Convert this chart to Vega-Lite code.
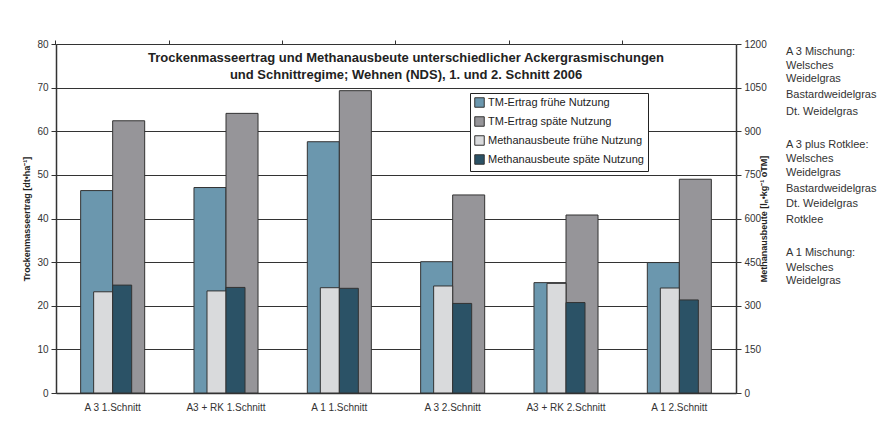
{
  "$schema": "https://vega.github.io/schema/vega-lite/v6.json",
  "background": "white",
  "padding": {"left": 22, "top": 39, "right": 5, "bottom": 5},
  "config": {
    "font": "Liberation Sans",
    "view": {"stroke": null},
    "concat": {"spacing": 17},
    "axis": {"labelFont": "Liberation Sans", "titleFont": "Liberation Sans", "labelColor": "#333", "titleColor": "#222", "domainColor": "#333", "tickColor": "#333"}
  },
  "datasets": {
    "balken": [
      {"kategorie": "A 3 1.Schnitt", "serie": "TM-Ertrag frühe Nutzung", "gruppe": "TM", "wert": 46.4},
      {"kategorie": "A 3 1.Schnitt", "serie": "TM-Ertrag späte Nutzung", "gruppe": "TM", "wert": 62.4},
      {"kategorie": "A3 + RK 1.Schnitt", "serie": "TM-Ertrag frühe Nutzung", "gruppe": "TM", "wert": 47.1},
      {"kategorie": "A3 + RK 1.Schnitt", "serie": "TM-Ertrag späte Nutzung", "gruppe": "TM", "wert": 64.1},
      {"kategorie": "A 1 1.Schnitt", "serie": "TM-Ertrag frühe Nutzung", "gruppe": "TM", "wert": 57.6},
      {"kategorie": "A 1 1.Schnitt", "serie": "TM-Ertrag späte Nutzung", "gruppe": "TM", "wert": 69.3},
      {"kategorie": "A 3 2.Schnitt", "serie": "TM-Ertrag frühe Nutzung", "gruppe": "TM", "wert": 30.1},
      {"kategorie": "A 3 2.Schnitt", "serie": "TM-Ertrag späte Nutzung", "gruppe": "TM", "wert": 45.4},
      {"kategorie": "A3 + RK 2.Schnitt", "serie": "TM-Ertrag frühe Nutzung", "gruppe": "TM", "wert": 25.3},
      {"kategorie": "A3 + RK 2.Schnitt", "serie": "TM-Ertrag späte Nutzung", "gruppe": "TM", "wert": 40.8},
      {"kategorie": "A 1 2.Schnitt", "serie": "TM-Ertrag frühe Nutzung", "gruppe": "TM", "wert": 29.9},
      {"kategorie": "A 1 2.Schnitt", "serie": "TM-Ertrag späte Nutzung", "gruppe": "TM", "wert": 49.0},
      {"kategorie": "A 3 1.Schnitt", "serie": "Methanausbeute frühe Nutzung", "gruppe": "Methan", "wert": 348},
      {"kategorie": "A 3 1.Schnitt", "serie": "Methanausbeute späte Nutzung", "gruppe": "Methan", "wert": 371},
      {"kategorie": "A3 + RK 1.Schnitt", "serie": "Methanausbeute frühe Nutzung", "gruppe": "Methan", "wert": 351},
      {"kategorie": "A3 + RK 1.Schnitt", "serie": "Methanausbeute späte Nutzung", "gruppe": "Methan", "wert": 363},
      {"kategorie": "A 1 1.Schnitt", "serie": "Methanausbeute frühe Nutzung", "gruppe": "Methan", "wert": 362},
      {"kategorie": "A 1 1.Schnitt", "serie": "Methanausbeute späte Nutzung", "gruppe": "Methan", "wert": 360},
      {"kategorie": "A 3 2.Schnitt", "serie": "Methanausbeute frühe Nutzung", "gruppe": "Methan", "wert": 368},
      {"kategorie": "A 3 2.Schnitt", "serie": "Methanausbeute späte Nutzung", "gruppe": "Methan", "wert": 308},
      {"kategorie": "A3 + RK 2.Schnitt", "serie": "Methanausbeute frühe Nutzung", "gruppe": "Methan", "wert": 377},
      {"kategorie": "A3 + RK 2.Schnitt", "serie": "Methanausbeute späte Nutzung", "gruppe": "Methan", "wert": 311},
      {"kategorie": "A 1 2.Schnitt", "serie": "Methanausbeute frühe Nutzung", "gruppe": "Methan", "wert": 361},
      {"kategorie": "A 1 2.Schnitt", "serie": "Methanausbeute späte Nutzung", "gruppe": "Methan", "wert": 320}
    ],
    "hinweise": [
      {"zeile": 0.46, "spalte": 0, "text": "A 3 Mischung:"},
      {"zeile": 1.27, "spalte": 0, "text": "Welsches"},
      {"zeile": 2.03, "spalte": 0, "text": "Weidelgras"},
      {"zeile": 2.95, "spalte": 0, "text": "Bastardweidelgras"},
      {"zeile": 3.9, "spalte": 0, "text": "Dt. Weidelgras"},
      {"zeile": 5.78, "spalte": 0, "text": "A 3 plus Rotklee:"},
      {"zeile": 6.61, "spalte": 0, "text": "Welsches"},
      {"zeile": 7.38, "spalte": 0, "text": "Weidelgras"},
      {"zeile": 8.3, "spalte": 0, "text": "Bastardweidelgras"},
      {"zeile": 9.19, "spalte": 0, "text": "Dt. Weidelgras"},
      {"zeile": 10.11, "spalte": 0, "text": "Rotklee"},
      {"zeile": 11.97, "spalte": 0, "text": "A 1 Mischung:"},
      {"zeile": 12.84, "spalte": 0, "text": "Welsches"},
      {"zeile": 13.6, "spalte": 0, "text": "Weidelgras"}
    ]
  },
  "hconcat": [
    {
      "width": 680,
      "height": 349,
      "data": {"name": "balken"},
      "title": {
        "text": ["Trockenmasseertrag und Methanausbeute unterschiedlicher Ackergrasmischungen", "und Schnittregime; Wehnen (NDS), 1. und 2. Schnitt 2006"],
        "anchor": "middle",
        "frame": "group",
        "baseline": "top",
        "offset": -43,
        "dx": 10,
        "fontSize": 13,
        "fontWeight": "bold",
        "font": "Liberation Sans",
        "color": "#222",
        "lineHeight": 17
      },
      "layer": [
        {
          "transform": [{"filter": "datum.gruppe === 'TM'"}],
          "mark": {"type": "bar", "stroke": "#333", "strokeWidth": 1},
          "encoding": {
            "x": {
              "field": "kategorie", "type": "nominal",
              "sort": ["A 3 1.Schnitt", "A3 + RK 1.Schnitt", "A 1 1.Schnitt", "A 3 2.Schnitt", "A3 + RK 2.Schnitt", "A 1 2.Schnitt"],
              "scale": {"paddingInner": 0.435, "paddingOuter": 0.2175},
              "axis": {"title": null, "ticks": false, "labelAngle": 0, "labelFontSize": 10, "labelPadding": 9, "domainColor": "#333", "domainWidth": 1.5, "grid": false}
            },
            "xOffset": {
              "field": "serie", "type": "nominal",
              "sort": ["TM-Ertrag frühe Nutzung", "TM-Ertrag späte Nutzung"],
              "scale": {"paddingInner": 0, "paddingOuter": 0}
            },
            "y": {
              "field": "wert", "type": "quantitative",
              "scale": {"domain": [0, 80], "nice": false},
              "axis": {
                "values": [0, 10, 20, 30, 40, 50, 60, 70, 80],
                "title": "Trockenmasseertrag [dt•ha⁻¹]",
                "titleFontSize": 9, "titleFontWeight": "bold", "titlePadding": 5,
                "labelFontSize": 10, "labelPadding": 3, "tickSize": 5,
                "grid": true, "gridColor": "#333", "gridWidth": 1,
                "domainColor": "#333", "domainWidth": 1.5
              }
            },
            "color": {
              "field": "serie", "type": "nominal",
              "scale": {
                "domain": ["TM-Ertrag frühe Nutzung", "TM-Ertrag späte Nutzung", "Methanausbeute frühe Nutzung", "Methanausbeute späte Nutzung"],
                "range": ["#6b97ae", "#969599", "#d9dadc", "#2b5266"]
              },
              "legend": {
                "orient": "none", "legendX": 414, "legendY": 49,
                "title": null,
                "strokeColor": "#222", "fillColor": "white", "padding": 4,
                "symbolType": "square", "symbolSize": 90,
                "symbolStrokeColor": "#333", "symbolStrokeWidth": 1,
                "labelFontSize": 11, "labelFont": "Liberation Sans", "labelColor": "#222",
                "labelOffset": 3, "rowPadding": 4, "labelLimit": 300
              }
            }
          }
        },
        {
          "transform": [{"filter": "datum.gruppe === 'Methan'"}],
          "mark": {"type": "bar", "stroke": "#333", "strokeWidth": 1},
          "encoding": {
            "x": {
              "field": "kategorie", "type": "nominal",
              "sort": ["A 3 1.Schnitt", "A3 + RK 1.Schnitt", "A 1 1.Schnitt", "A 3 2.Schnitt", "A3 + RK 2.Schnitt", "A 1 2.Schnitt"],
              "axis": {"title": null, "labels": false, "ticks": true, "tickSize": 4, "bandPosition": -0.385, "domain": false, "grid": false}
            },
            "xOffset": {
              "field": "serie", "type": "nominal",
              "sort": ["Methanausbeute frühe Nutzung", "Methanausbeute späte Nutzung"],
              "scale": {"paddingInner": 0, "paddingOuter": 0.684}
            },
            "y": {
              "field": "wert", "type": "quantitative",
              "scale": {"domain": [0, 1200], "nice": false},
              "axis": {
                "orient": "right",
                "values": [0, 150, 300, 450, 600, 750, 900, 1050, 1200],
                "format": "d",
                "title": "Methanausbeute [lₙ•kg⁻¹ oTM]",
                "titleAngle": 270, "titleFontSize": 9, "titleFontWeight": "bold", "titlePadding": 2,
                "labelFontSize": 10, "labelPadding": 3, "tickSize": 5,
                "grid": false, "domainColor": "#333", "domainWidth": 1.5
              }
            },
            "color": {"field": "serie", "type": "nominal"}
          }
        }
      ],
      "resolve": {"scale": {"y": "independent", "xOffset": "independent"}, "axis": {"x": "independent"}}
    },
    {
      "width": 100,
      "height": 349,
      "data": {"name": "hinweise"},
      "mark": {"type": "text", "align": "left", "baseline": "middle", "fontSize": 11, "font": "Liberation Sans", "color": "#333"},
      "encoding": {
        "x": {"field": "spalte", "type": "quantitative", "scale": {"domain": [0, 1]}, "axis": null},
        "y": {"field": "zeile", "type": "quantitative", "scale": {"domain": [0, 20], "reverse": true, "nice": false}, "axis": null},
        "text": {"field": "text"}
      }
    }
  ]
}
